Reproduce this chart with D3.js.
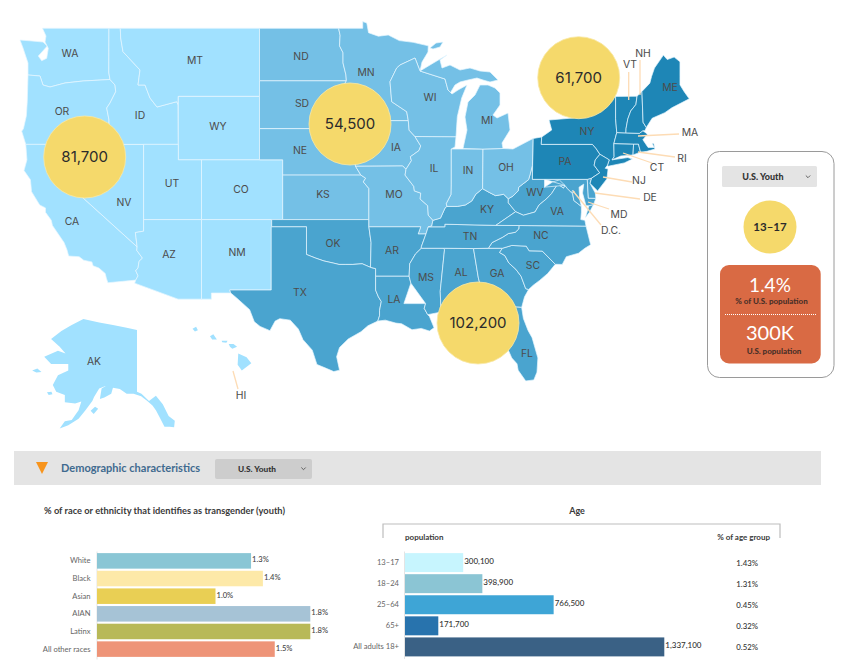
<!DOCTYPE html>
<html>
<head>
<meta charset="utf-8">
<script src="https://cdn.jsdelivr.net/npm/d3@7"></script>
<style>
  body { margin: 0; background: #fff; }
  svg { display: block; }
  text { font-family: Lato, sans-serif; }
  .map-label { font-family: Inter, sans-serif; font-size: 10.4px; font-weight: 400; fill: #4c4c4c; text-anchor: middle; dominant-baseline: central; }
  .axis text { font-family: Lato, sans-serif; fill: #666; font-size: 7.6px; }
  .axis path { stroke: #e4e4e4; }
</style>
</head>
<body>
<script>
const width = 843;
const height = 672;

// ---- chart values ----
const regionNames = ["West", "Midwest", "Northeast", "South"];
const regionPopulation = [81700, 54500, 61700, 102200];
const westStates = ["WA", "OR", "CA", "NV", "ID", "MT", "WY", "UT", "CO", "AZ", "NM", "AK", "HI"];
const midwestStates = ["ND", "SD", "NE", "KS", "MN", "IA", "MO", "WI", "IL", "IN", "MI", "OH"];
const southStates = ["TX", "OK", "AR", "LA", "MS", "AL", "GA", "FL", "SC", "NC", "TN", "KY", "WV", "VA", "MD", "DE", "DC"];
const northeastStates = ["PA", "NY", "NJ", "CT", "RI", "MA", "VT", "NH", "ME"];

const raceNames = ["White", "Black", "Asian", "AIAN", "Latinx", "All other races"];
const racePercent = [1.3, 1.4, 1.0, 1.8, 1.8, 1.5];
const raceColors = ["#8ac6d5", "#fde9a8", "#e9cf54", "#a6c3d6", "#b8b958", "#ee9478"];

const ageNames = ["13–17", "18–24", "25–64", "65+", "All adults 18+"];
const agePopulation = [300100, 398900, 766500, 171700, 1337100];
const agePercent = ["1.43%", "1.31%", "0.45%", "0.32%", "0.52%"];
const ageColors = ["#c7f5fe", "#8bc5d4", "#3ea5d6", "#2873ad", "#3a6185"];

// Lower 48 sit on a Mercator
const projection = d3.geoMercator()
    .scale(664.6)
    .center([-104.05, 49])
    .translate([259.5, 28.3]);

const traced = pts => pts.map(p => projection.invert(p));

// ---- shared borders, lon/lat ----
const columbia = traced([[110,79.5],[83,81],[65,83],[50,87],[43,85],[40,76],[28,75]]);
const snake = traced([[109,120],[106.7,108],[110,103],[115.7,91.7],[115,85],[110,79.5]]);
const bitterroot = traced([[120.7,38],[123,51.7],[140,70],[138,85],[145,85],[150,98],[157,107],[176.7,101.7],[178,104.5]]);
const colorado = [[-114.75,36.1],[-114.6,35.1],[-114.63,34.85],[-114.14,34.3],[-114.43,34.08],[-114.52,33.6],[-114.72,33.4],[-114.52,33.03],[-114.72,32.72]];
const redNorth = [[-97.23,49],[-97.1,48.6],[-97.15,48],[-96.85,47.6],[-96.85,47],[-96.6,46.3],[-96.56,45.94]];
const bigStone = [[-96.56,45.94],[-96.85,45.6],[-96.45,45.3],[-96.45,43.5]];
const missouriSD = [[-96.45,42.49],[-96.7,42.6],[-97.2,42.85],[-98,42.77],[-98.5,43]];
const missouriNE = [[-96.45,42.49],[-96.1,41.7],[-95.9,41.2],[-95.77,40.58]];
const missouriKS = [[-95.77,40.58],[-95.31,40],[-94.9,39.8],[-95.1,39.55],[-94.62,39.11]];
const redRiver = [[-94.48,33.64],[-95.2,33.9],[-96,33.85],[-96.6,33.85],[-97.2,33.85],[-97.7,33.95],[-98.5,34.1],[-99.2,34.3],[-100,34.56]];
const sabine = [[-94.04,31.99],[-93.8,31.5],[-93.55,31.15],[-93.7,30.5],[-93.7,30.1],[-93.85,29.7]];
const mnWI = traced([[420,71],[415,58],[400,65],[396.7,68],[390,81.7],[391.7,101.7],[406.7,111.7]]).concat([[-91.22,43.5]]);
const missWI = [[-91.22,43.5],[-91.15,42.9],[-90.65,42.5]];
const missIA = [[-90.65,42.5],[-90.15,41.9],[-90.3,41.6],[-91.05,41.2],[-90.95,40.95],[-91.42,40.38]];
const missMO = [[-91.42,40.38],[-91.5,40],[-90.75,39.25],[-90.7,38.95],[-90.15,38.8],[-90.2,38.4],[-89.55,37.95],[-89.5,37.3],[-89.1,36.95]];
const missKY = [[-89.1,36.95],[-89.2,36.55],[-89.5,36.5]];
const missTN = [[-89.7,36],[-90.1,35.1],[-90.1,35]];
const missAR = [[-90.1,35],[-90.6,34.6],[-91.1,33.9],[-91.15,33]];
const missLA = [[-91.15,33],[-91,32.5],[-91.6,31]];
const ohioOH = [[-82.6,38.42],[-83,38.72],[-83.7,38.63],[-84.25,38.85],[-84.82,39.1]];
const ohioIN = [[-84.82,39.1],[-85.4,38.73],[-85.75,38.27],[-86.3,38],[-87,37.9],[-87.9,37.9]];
const ohioIL = [[-88.05,37.8],[-88.45,37.1],[-89.1,36.95]];
const wabash = [[-87.53,39.35],[-87.55,38.7],[-87.95,38.1],[-87.9,37.9]];
const ohioWV = [[-80.52,40.64],[-80.7,40.1],[-80.85,39.7],[-81.7,39.2],[-81.75,38.95],[-82.2,38.6],[-82.6,38.42]];
const potomac = [[-76.3,37.9],[-76.95,38.3],[-77.05,38.75],[-77.5,39.1],[-77.72,39.32]];
const potomacWV = [[-77.72,39.32],[-78.2,39.68],[-78.77,39.55],[-79.48,39.2],[-79.48,39.72]];
const vaWV = [[-81.97,37.54],[-81.3,37.3],[-80.3,37.52],[-79.95,38],[-79.3,38.42],[-78.87,38.77],[-78.35,39.4],[-77.83,39.13],[-77.72,39.32]];
const bigSandy = [[-81.97,37.54],[-82.6,38.15],[-82.6,38.42]];
const tnNC = [[-84.32,35],[-84,35.4],[-83.1,35.77],[-82.6,36.03],[-82,36.12],[-81.7,36.35],[-81.68,36.59]];
const ncSC = [[-83.11,35],[-82.3,35.2],[-81.05,35.15],[-80.8,34.82],[-79.67,34.8],[-78.55,33.86]];
const savannah = [[-83.11,35],[-83.35,34.7],[-82.9,34.48],[-82.55,33.95],[-81.95,33.5],[-81.5,33],[-81.1,32.1],[-80.85,32.03]];
const chattahoochee = [[-85.6,34.98],[-85.18,32.87],[-85,32.3],[-85.05,31.5],[-85,31]];
const pearl = [[-89.73,31],[-89.85,30.65],[-89.55,30.18]];
const delaware = [[-75.35,42],[-75.05,41.75],[-74.7,41.36],[-75.1,41],[-75.2,40.65],[-74.72,40.15],[-75.42,39.8]];
const connecticut = [[-71.5,45.01],[-71.6,44.5],[-72.05,44.1],[-72.3,43.6],[-72.45,43],[-72.46,42.73]];
const nyNewEngland = [[-73.35,45],[-73.35,43.62],[-73.25,42.75],[-73.5,42.05],[-73.48,41.2],[-73.65,41]];
const wiMI = traced([[420,71],[445,79],[448,90],[450.5,92.5]]);

const rev = a => a.slice().reverse();

const stateRings = {
  WA: [[[-122.76,49],[-117.03,49],[-117.04,46.42],...columbia,...traced([[28,63],[23,48],[20,40],[32,41],[43,42],[47.3,46],[38.3,56],[41.7,60.7],[46.7,58.3],[48.3,48.3],[45,42],[46,36]])]],
  OR: [[...rev(columbia),...rev(snake),[-117.03,42],[-124.2,42],[-124.55,42.84],[-124.4,43],[-124.15,43.8],[-124.07,44.7]]],
  CA: [[[-124.2,42],[-120,42],[-120,39],[-114.6,35.1],...colorado.slice(2),[-117.12,32.53],[-117.25,32.85],[-117.35,33.2],[-117.9,33.6],[-118.4,33.75],[-118.5,34.03],[-119.2,34.15],[-119.6,34.4],[-120.5,34.45],[-120.65,34.9],[-120.9,35.4],[-121.9,36.6],[-122,36.95],[-122.5,37.5],[-122.5,37.8],[-123,38],[-123.7,38.9],[-123.8,39.7],[-124.35,40.3],[-124.1,41]]],
  NV: [[[-120,42],[-114.04,42],[-114.04,36.2],[-114.75,36.1],[-114.6,35.1],[-120,39]]],
  ID: [[[-117.03,49],[-116.05,49],...bitterroot,[-111.05,42],[-117.03,42],...snake,[-117.04,46.42]]],
  MT: [[[-116.05,49],[-104.05,49],[-104.05,45],[-111.05,45],...rev(bitterroot)]],
  WY: [[[-111.05,45],[-104.05,45],[-104.05,41],[-111.05,41]]],
  UT: [[[-114.04,42],[-111.05,42],[-111.05,41],[-109.05,41],[-109.05,37],[-114.04,37]]],
  CO: [[[-109.05,41],[-102.05,41],[-102.05,37],[-109.05,37]]],
  AZ: [[[-114.04,37],[-109.05,37],[-109.05,31.33],[-111.07,31.33],[-114.81,32.5],...rev(colorado),[-114.04,36.2]]],
  NM: [[[-109.05,37],[-103,37],[-103.04,32],[-106.62,32],[-106.53,31.78],[-108.2,31.78],[-108.2,31.33],[-109.05,31.33]]],
  ND: [[[-104.05,49],...redNorth,[-104.05,45.94]]],
  SD: [[[-104.05,45.94],...bigStone,...missouriSD,[-104.05,43]]],
  NE: [[[-104.05,43],...rev(missouriSD),...missouriNE,[-95.31,40],[-102.05,40],[-102.05,41],[-104.05,41]]],
  KS: [[[-102.05,40],...missouriKS.slice(1),[-94.62,37],[-102.05,37]]],
  OK: [[[-103,37],[-94.62,37],[-94.62,36.5],[-94.43,35.4],...redRiver,[-100,36.5],[-103,36.5]]],
  TX: [[[-103.04,36.5],[-100,36.5],...rev(redRiver),[-94.04,33.55],...sabine,[-94.7,29.35],[-95.3,28.9],[-96.4,28.35],[-97.15,27.7],[-97.4,27],[-97.15,25.96],[-97.65,25.85],[-98.3,26.1],[-99.1,26.4],[-99.5,27.5],[-100.3,28.3],[-100.7,29.1],[-101.4,29.77],[-102.3,29.88],[-102.7,29.7],[-103.15,28.98],[-104,29.3],[-104.5,29.65],[-104.9,30.55],[-106,31.4],[-106.53,31.78],[-106.62,32],[-103.04,32]]],
  MN: [[[-97.23,49],[-95.15,49],[-95.15,49.38],[-94.8,49.3],[-94.65,48.75],[-93.8,48.55],[-92.95,48.62],[-92,48.3],[-90.8,48.2],[-89.5,48],...traced([[428,52],[422,62]]),...mnWI,[-96.45,43.5],...rev(bigStone).slice(1),...rev(redNorth).slice(1)]],
  IA: [[[-96.45,43.5],...missWI,...missIA.slice(1),[-91.7,40.6],[-95.77,40.58],...rev(missouriNE).slice(1)]],
  MO: [[[-95.77,40.58],[-91.7,40.6],...missMO,...missKY.slice(1),[-89.7,36],[-90.37,36],[-90.15,36.5],[-94.62,36.5],[-94.62,39.11],...rev(missouriKS).slice(1,-1)]],
  AR: [[[-94.62,36.5],[-90.15,36.5],[-90.37,36],...missTN,...missAR.slice(1),[-94.04,33],[-94.04,33.55],[-94.48,33.64],[-94.43,35.4]]],
  LA: [[[-94.04,33],...missLA,...pearl,[-89.4,30.05],[-89,29.2],[-89.4,28.95],[-90.1,29.15],[-90.9,29.05],[-91.8,29.5],[-92.3,29.55],[-93.2,29.77],...rev(sabine)]],
  MS: [[[-90.1,35],[-88.2,35],[-88.1,34.9],[-88.47,31.9],[-88.4,30.37],...rev(pearl),...rev(missLA).slice(1),...rev(missAR).slice(1,-1)]],
  AL: [[[-88.2,35],...chattahoochee,[-87.6,31],[-87.4,30.65],[-87.5,30.3],[-88,30.23],[-88,30.65],[-88.4,30.37],[-88.47,31.9],[-88.1,34.9]]],
  GA: [[...chattahoochee,[-84.86,30.7],[-82.2,30.55],[-82,30.75],[-81.45,30.72],[-81.2,31.5],...rev(savannah)]],
  FL: [[[-87.6,31],[-85,31],[-84.86,30.7],[-82.2,30.55],[-82,30.75],[-81.45,30.72],[-81.3,29.9],[-80.9,29],[-80.55,28.45],[-80.05,26.9],[-80.13,25.8],[-80.4,25.2],[-81.1,25.12],[-81.75,25.95],[-81.85,26.45],[-82.3,26.9],[-82.75,27.8],[-82.65,28.4],[-82.8,29],[-83.4,29.6],[-84,30.1],[-84.35,29.95],[-85.3,29.7],[-85.7,30.15],[-86.4,30.38],[-87.5,30.3],[-87.4,30.65]]],
  SC: [[...ncSC,[-79.2,33.2],[-79.9,32.7],[-80.45,32.35],...rev(savannah)]],
  NC: [[...tnNC,[-75.9,36.55],[-75.5,35.25],[-76,35],[-76.55,34.65],[-77.6,34.4],[-77.95,33.85],...rev(ncSC)]],
  TN: [[[-89.5,36.5],[-88.07,36.5],[-88.07,36.68],[-83.68,36.6],[-81.68,36.59],...rev(tnNC),[-85.6,34.98],[-88.2,35],...rev(missTN)]],
  KY: [[[-89.5,36.5],[-88.07,36.5],[-88.07,36.68],[-83.68,36.6],...bigSandy,...ohioOH.slice(1),...ohioIN.slice(1),...ohioIL,[-89.2,36.55]]],
  WV: [[...ohioWV,...rev(bigSandy).slice(1),...vaWV.slice(1),...potomacWV,[-80.52,39.72]]],
  VA: [[[-83.68,36.6],[-81.68,36.59],[-75.9,36.55],[-76,36.95],[-76.35,37],[-76.3,37.5],...potomac,...rev(vaWV)], [[-75.95,37.15],[-75.65,37.95],[-75.25,38.03],[-75.6,37.5]]],
  MD: [[[-79.48,39.72],[-75.79,39.72],[-75.7,38.46],[-75.05,38.45],[-75.25,38.03],[-75.65,37.95],[-75.9,37.95],[-76.2,38.8],[-76.1,39.4],[-76.5,39.2],[-76.45,38.4],...potomac,...rev(potomacWV).slice(1)]],
  DE: [[[-75.79,39.72],[-75.42,39.8],[-75.55,39.45],[-75.1,38.8],[-75.05,38.45],[-75.7,38.46]]],
  DC: [[[-77.12,38.93],[-77.04,39],[-76.91,38.89],[-77.04,38.79]]],
  PA: [[...traced([[533,138.5],[541.7,137]]),[-79.76,42],...delaware,[-75.79,39.72],[-80.52,39.72]]],
  NY: [[[-79.76,42],...traced([[541.7,137],[551.7,130],[549,120],[573,118],[588,113],[600,104]]),...nyNewEngland,[-72.3,41.15],[-71.9,41.05],[-72.6,40.8],[-74,40.58],[-74.05,40.65],[-73.9,41],[-74.7,41.36],[-75.05,41.75],[-75.35,42]]],
  NJ: [[[-74.7,41.36],[-73.9,41],[-74.05,40.65],[-74.25,40.45],[-74,40.4],[-74.1,39.75],[-74.9,38.95],[-75.55,39.45],[-75.42,39.8],[-74.72,40.15],[-75.2,40.65],[-75.1,41]]],
  CT: [[[-73.5,42.05],[-71.8,42.02],[-71.85,41.32],[-72.9,41.25],[-73.65,41],[-73.48,41.2]]],
  RI: [[[-71.8,42.02],[-71.38,42.02],[-71.2,41.5],[-71.85,41.32]]],
  MA: [[[-73.25,42.75],[-72.46,42.73],[-71.3,42.7],[-71,42.87],[-70.6,42.65],[-71,42.3],[-70.55,41.8],[-70,41.8],[-70.05,42.05],[-70.2,42.05],[-69.95,41.7],[-70.65,41.55],[-71.2,41.5],[-71.38,42.02],[-71.8,42.02],[-73.5,42.05]]],
  VT: [[...connecticut,[-73.25,42.75],[-73.35,43.62],[-73.35,45]]],
  NH: [[[-71.08,45.3],[-70.98,43.4],[-70.7,43.07],[-70.82,42.87],[-71,42.87],[-71.3,42.7],...rev(connecticut)]],
  ME: [[[-71.08,45.3],[-70.4,45.8],[-70.25,46.2],[-70,46.7],[-69.23,47.46],[-68.9,47.2],[-68.3,47.35],[-67.8,47.07],[-67.8,45.7],[-67.45,45.3],[-67,44.85],[-68.5,44.3],[-69.1,44],[-70.2,43.65],[-70.7,43.07],[-70.98,43.4]]],
  OH: [[[-84.82,39.1],...rev(ohioOH).slice(1),...rev(ohioWV).slice(1),...traced([[533,138.5],[513,149],[503,148.5]]),[-84.8,41.7]]],
  IN: [[[-87.53,41.7],[-84.8,41.7],...ohioIN,...rev(wabash)]],
  IL: [[[-87.53,41.7],...wabash,...ohioIL,...rev(missMO).slice(1),...rev(missIA).slice(1),...traced([[456,136.7],[455,147]])]],
  WI: [[[-90.65,42.5],...traced([[456,136.7],[457.3,116.7],[461.7,98],[467,85],[458,90],[452,94]]),...rev(wiMI),...mnWI.slice(1),...missWI.slice(1)]],
  MI: [[...traced([[463,148.5],[467,130],[465,117],[468,102],[475,95],[480,85],[488,85],[495,88],[500,93],[500,105],[493,115],[497,118],[508,113],[510,130],[502,143],[503,148.5]]),[-84.8,41.7]],
       [...wiMI,...traced([[455,85],[460,82],[468,80],[477,78],[483,80],[490,82],[498,80],[490,72],[480,71],[470,68],[460,70],[450,65],[442,68],[440,60],[447,55],[435,62]])],
       traced([[430,48],[436,43],[443,42],[440,47],[433,49]])]
};

const alaskaRings = [
  [[-141,69.65],[-141,60.3],[-139.7,60],[-137.5,58.9],[-135.5,59.7],[-133.5,58.4],[-131.8,56.6],[-130,55.9],[-130.2,54.9],[-131.5,55],[-133,55],[-134.5,56.5],[-135.5,57.5],[-136.5,58.2],[-138,58.9],[-139.8,59.6],[-142,60],[-144,60],[-146,60.7],[-148,60.9],[-148.5,60],[-150.5,59.4],[-151.8,59.2],[-151.3,60.8],[-150,61.2],[-152,60.8],[-153.5,59.5],[-154,58.9],[-156,57.5],[-158,56.2],[-161,55.2],[-163.5,54.7],[-162,55.8],[-160,56],[-158,57.5],[-157.2,58.8],[-159,58.5],[-162,58.7],[-162,59.8],[-164.5,60.3],[-165.5,61.3],[-164,62.8],[-161,63.5],[-161,64.5],[-163,64.5],[-166,64.5],[-168,65.6],[-164,66.5],[-161.8,66.1],[-163.5,67.1],[-166,68.3],[-163,69.5],[-160,70.4],[-156.6,71.3],[-152,70.8],[-148,70.4],[-144,70]],
  [[-154.5,57.4],[-153.2,58],[-152.3,57.7],[-153.6,56.9]],
  [[-167.2,60.2],[-165.9,60.3],[-165.6,59.9],[-166.7,59.8]],
  [[-171.5,63.5],[-170,63.8],[-168.8,63.3],[-170.3,63.2]]
];

const hawaiiRings = [
  [[-159.75,22.1],[-159.45,22.25],[-159.3,22],[-159.55,21.9]],
  [[-158.28,21.55],[-158,21.7],[-157.7,21.3],[-158.1,21.3]],
  [[-157.3,21.2],[-156.8,21.2],[-156.9,21.05],[-157.25,21.08]],
  [[-156.7,20.95],[-156.3,20.95],[-156,20.75],[-156.4,20.6],[-156.6,20.75]],
  [[-155.9,20.25],[-155.2,19.95],[-154.8,19.5],[-155.6,18.95],[-155.95,19.4]]
];

const stateLabels = ["WA","MT","ND","MN","OR","ID","SD","WI","MI","WY","NE","IA","NY","ME","PA","OH","IN","IL","UT","CO","KS","MO","NV","CA","KY","WV","VA","TN","NC","OK","AR","AZ","NM","MS","AL","GA","SC","LA","TX","FL","AK","NH","VT","MA","RI","CT","NJ","DE","MD","D.C.","HI"];
const labelSpots = [[70,53],[195,60],[301,56],[366,72],[62,111],[140,115],[302,103],[430,97],[487,120],[218,126],[300,150],[396,147],[587,131],[670,87],[565,161],[506,167],[468,170],[434,168],[172,183],[241,189],[323,194],[394,194],[124,202],[72,221],[487,209],[535,192],[557,211],[470,236],[541,235],[333,243],[392,250],[169,254],[237,252],[426,277],[461,272],[497,273],[533,265],[394,299],[300,292],[527,353],[94,361],[643,53],[630,64],[690,132],[682,158],[657,167],[639,180],[650,197],[619,214],[611,230],[241,395]];
const leaderLines = [[[628.7,72],[628.7,100]],[[640,60],[640,95]],[[638,136],[679,134]],[[638,152],[675,157]],[[623,153],[652,163]],[[603,177],[632,182]],[[595,193],[640,199]],[[588,202],[609,209]],[[573,191],[601,225]],[[233,371],[238,389]]];
const regionSpots = [[84.7,157],[350,124],[578.7,77.7],[478,323]];

const svg = d3.select("body").append("svg")
    .attr("width", width)
    .attr("height", height);

// rings are drawn planar so winding order doesn't matter
const path = d3.geoPath(d3.geoTransform({
    point: function(lon, lat) {
        const p = projection([lon, lat]);
        this.stream.point(p[0], p[1]);
    }
}));

// Alaska and Hawaii are inset with their own scales
const akX = d3.scaleLinear().domain([-141, -130]).range([137, 174.8]);
const akY = d3.scaleLinear().domain([69.65, 54.9]).range([330, 427.3]);
const hiX = d3.scaleLinear().domain([-159.5, -155.5]).range([195.5, 243]);
const hiY = d3.scaleLinear().domain([22.05, 19.6]).range([329.5, 362]);
const insetPath = (x, y) => d3.geoPath(d3.geoTransform({
    point: function(lon, lat) { this.stream.point(x(lon), y(lat)); }
}));

const closeRing = r => r.concat([r[0]]);
const toShape = rings => ({type: "MultiPolygon", coordinates: rings.map(r => [closeRing(r)])});

const tierColor = d3.scaleOrdinal()
    .domain(["west", "midwest", "south", "northeast"])
    .range(["#a1e1ff", "#74c0e6", "#4aa4cf", "#1e86b6"]);

function tierOf(abbr) {
    if (westStates.includes(abbr)) return "west";
    if (midwestStates.includes(abbr)) return "midwest";
    if (southStates.includes(abbr)) return "south";
    return "northeast";
}

const map = svg.append("g");

map.selectAll("path.state")
    .data(Object.keys(stateRings))
    .enter()
    .append("path")
    .attr("class", "state")
    .attr("d", d => path(toShape(stateRings[d])))
    .attr("fill", d => tierColor(tierOf(d)))
    .attr("stroke", "#e6f6ff")
    .attr("stroke-width", 0.7)
    .attr("stroke-linejoin", "round");

map.append("path")
    .attr("d", insetPath(akX, akY)(toShape(alaskaRings)))
    .attr("fill", tierColor("west"));

map.append("path")
    .attr("d", insetPath(hiX, hiY)(toShape(hawaiiRings)))
    .attr("fill", tierColor("west"));

// Leader lines
map.selectAll("line.leader")
    .data(leaderLines)
    .enter()
    .append("line")
    .attr("x1", d => d[0][0])
    .attr("y1", d => d[0][1])
    .attr("x2", d => d[1][0])
    .attr("y2", d => d[1][1])
    .attr("stroke", "#fddcb5")
    .attr("stroke-width", 1.3);

map.selectAll("text.map-label")
    .data(stateLabels)
    .enter()
    .append("text")
    .attr("class", "map-label")
    .attr("x", (d, i) => labelSpots[i][0])
    .attr("y", (d, i) => labelSpots[i][1])
    .text(d => d);

// Region bubbles
const bubbles = map.selectAll("g.bubble")
    .data(regionNames)
    .enter()
    .append("g")
    .attr("transform", (d, i) => `translate(${regionSpots[i]})`);

bubbles.append("circle")
    .attr("r", 41)
    .attr("fill", "#f5d96b")
    .attr("stroke", "#f9e9a6")
    .attr("stroke-width", 0.8);

bubbles.append("text")
    .attr("text-anchor", "middle")
    .attr("dy", "0.36em")
    .style("font-family", "Inter, sans-serif")
    .style("font-size", "15px")
    .attr("fill", "#2b2b2b")
    .text((d, i) => d3.format(",")(regionPopulation[i]));

// Side panel
const panel = svg.append("g");

panel.append("rect")
    .attr("x", 707.5).attr("y", 151.5)
    .attr("width", 126.5).attr("height", 226)
    .attr("rx", 12)
    .attr("fill", "#fff")
    .attr("stroke", "#9a9a9a");

function chevron(g, x, y) {
    g.append("path")
        .attr("d", d3.line()([[x - 2.2, y - 1], [x, y + 1.2], [x + 2.2, y - 1]]))
        .attr("fill", "none")
        .attr("stroke", "#444")
        .attr("stroke-width", 0.8);
}

panel.append("rect")
    .attr("x", 722).attr("y", 166)
    .attr("width", 95).attr("height", 21)
    .attr("rx", 1.5)
    .attr("fill", "#e4e4e4");

panel.append("text")
    .attr("x", 763).attr("y", 180)
    .attr("text-anchor", "middle")
    .style("font-size", "9px").style("font-weight", 900)
    .attr("fill", "#333")
    .text("U.S. Youth");

chevron(panel, 808, 176.5);

panel.append("circle")
    .attr("cx", 770).attr("cy", 227)
    .attr("r", 26.5)
    .attr("fill", "#f5d96b");

panel.append("text")
    .attr("x", 770).attr("y", 231)
    .attr("text-anchor", "middle")
    .style("font-size", "11.5px").style("font-weight", 700)
    .attr("fill", "#2b2b2b")
    .text("13–17");

panel.append("rect")
    .attr("x", 720).attr("y", 265)
    .attr("width", 100.7).attr("height", 98.5)
    .attr("rx", 9)
    .attr("fill", "#d96a44");

const panelText = [
    ["1.4%", 770, 292, 19, 400, "#fff"],
    ["% of U.S. population", 771.5, 304, 8, 900, "#4a3028"],
    ["300K", 770, 340, 20, 400, "#fff"],
    ["U.S. population", 774, 354, 8, 900, "#4a3028"]
];

panel.selectAll("text.stat")
    .data(panelText)
    .enter()
    .append("text")
    .attr("x", d => d[1])
    .attr("y", d => d[2])
    .attr("text-anchor", "middle")
    .style("font-size", d => d[3] + "px")
    .style("font-weight", d => d[4])
    .attr("fill", d => d[5])
    .text(d => d[0]);

panel.append("line")
    .attr("x1", 725).attr("x2", 816)
    .attr("y1", 314.5).attr("y2", 314.5)
    .attr("stroke", "#fff")
    .attr("stroke-dasharray", "1 1");

// Demographic band
const band = svg.append("g");

band.append("rect")
    .attr("x", 14).attr("y", 451)
    .attr("width", 807).attr("height", 34)
    .attr("fill", "#e4e4e4");

band.append("path")
    .attr("d", d3.line()([[36, 462], [48, 462], [42, 474]]) + "Z")
    .attr("fill", "#f7941d");

band.append("text")
    .attr("x", 61).attr("y", 472)
    .style("font-size", "11px").style("font-weight", 700)
    .attr("fill", "#3f6a8f")
    .text("Demographic characteristics");

band.append("rect")
    .attr("x", 215).attr("y", 459)
    .attr("width", 97).attr("height", 20)
    .attr("rx", 2)
    .attr("fill", "#cdcdcd");

band.append("text")
    .attr("x", 257).attr("y", 472)
    .attr("text-anchor", "middle")
    .style("font-size", "8.3px").style("font-weight", 900)
    .attr("fill", "#333")
    .text("U.S. Youth");

chevron(band, 303.5, 468.5);

// Race / ethnicity bars
svg.append("text")
    .attr("x", 44).attr("y", 514)
    .style("font-size", "9.3px").style("font-weight", 700)
    .attr("fill", "#3a3a3a")
    .text("% of race or ethnicity that identifies as transgender (youth)");

const raceX = d3.scaleLinear().domain([0, 1.8]).range([97, 310.3]);
const raceY = d3.scaleBand().domain(raceNames).range([551, 659]).padding(0.12);

svg.append("g")
    .attr("class", "axis")
    .attr("transform", "translate(96.5,0)")
    .call(d3.axisLeft(raceY).tickSize(0).tickPadding(6));

svg.selectAll("rect.race")
    .data(raceNames)
    .enter()
    .append("rect")
    .attr("x", raceX(0))
    .attr("y", d => raceY(d))
    .attr("width", (d, i) => raceX(racePercent[i]) - raceX(0))
    .attr("height", raceY.bandwidth())
    .attr("fill", (d, i) => raceColors[i]);

svg.selectAll("text.race-value")
    .data(raceNames)
    .enter()
    .append("text")
    .attr("x", (d, i) => raceX(racePercent[i]) + 1)
    .attr("y", d => raceY(d) + raceY.bandwidth() / 2 + 1.5)
    .style("font-size", "7.6px").style("font-weight", 500)
    .attr("fill", "#444")
    .text((d, i) => racePercent[i].toFixed(1) + "%");

// Age bars
svg.append("text")
    .attr("x", 577).attr("y", 514)
    .attr("text-anchor", "middle")
    .style("font-size", "9px").style("font-weight", 700)
    .attr("fill", "#3a3a3a")
    .text("Age");

svg.append("path")
    .attr("d", d3.line()([[383, 538], [383, 524], [780, 524], [780, 538]]))
    .attr("fill", "none")
    .attr("stroke", "#bdbdbd")
    .attr("stroke-width", 1.2);

svg.append("text")
    .attr("x", 405).attr("y", 540)
    .style("font-size", "8px").style("font-weight", 700)
    .attr("fill", "#3a3a3a")
    .text("population");

svg.append("text")
    .attr("x", 770).attr("y", 540)
    .attr("text-anchor", "end")
    .style("font-size", "8px").style("font-weight", 700)
    .attr("fill", "#3a3a3a")
    .text("% of age group");

const ageX = d3.scaleLinear().domain([0, 1337100]).range([405, 664.3]);
const ageY = d3.scaleBand().domain(ageNames).range([551, 658.5]).padding(0.1);

svg.append("g")
    .attr("class", "axis")
    .attr("transform", "translate(404,0)")
    .call(d3.axisLeft(ageY).tickSize(0).tickPadding(5));

svg.selectAll("rect.age")
    .data(ageNames)
    .enter()
    .append("rect")
    .attr("x", ageX(0))
    .attr("y", d => ageY(d))
    .attr("width", (d, i) => ageX(agePopulation[i]) - ageX(0))
    .attr("height", ageY.bandwidth())
    .attr("fill", (d, i) => ageColors[i]);

svg.selectAll("text.age-value")
    .data(ageNames)
    .enter()
    .append("text")
    .attr("x", (d, i) => ageX(agePopulation[i]) + 1)
    .attr("y", d => ageY(d) + ageY.bandwidth() / 2 + 1.5)
    .style("font-size", "8px").style("font-weight", 500)
    .attr("fill", "#333")
    .text((d, i) => d3.format(",")(agePopulation[i]));

svg.selectAll("text.age-pct")
    .data(ageNames)
    .enter()
    .append("text")
    .attr("x", 758)
    .attr("y", d => ageY(d) + ageY.bandwidth() / 2 + 3)
    .attr("text-anchor", "end")
    .style("font-size", "7.8px").style("font-weight", 500)
    .attr("fill", "#333")
    .text((d, i) => agePercent[i]);
</script>
</body>
</html>
